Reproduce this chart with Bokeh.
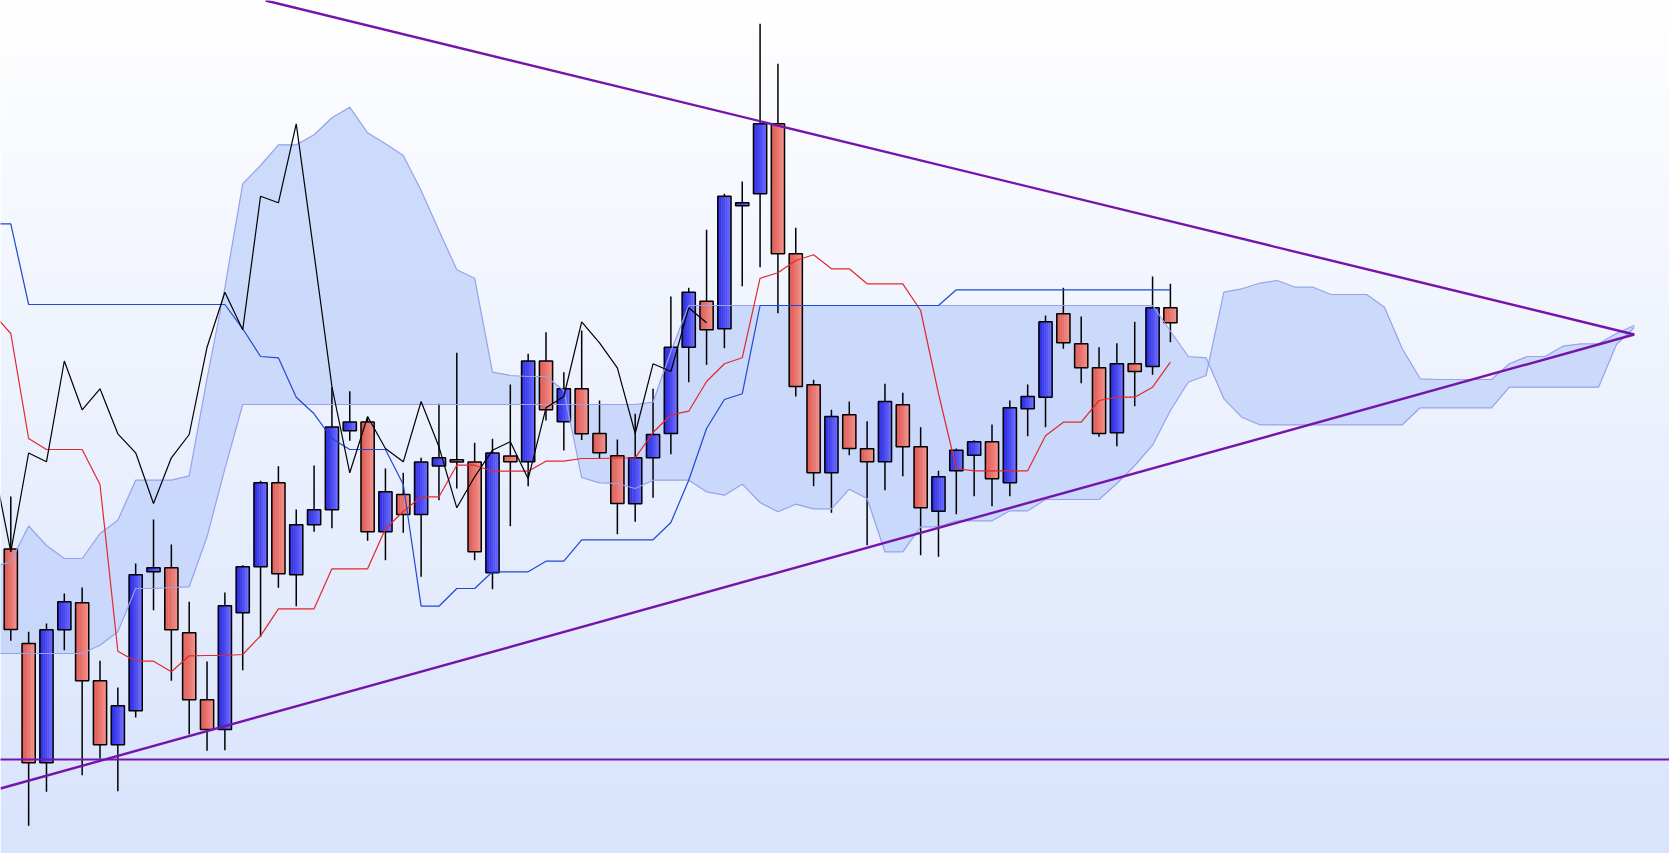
import numpy as np
from bokeh.plotting import figure
from bokeh.models import Range1d, ColumnDataSource
from bokeh.embed import file_html
from bokeh.resources import INLINE

# ---- candles, index 0..65 ----
opens = [304.5, 210, 90.7, 223.7, 250.7, 172.7, 108.7, 142.7, 281.7, 285.7,
         220.7, 153.7, 124, 240.7, 286.7, 370.7, 278.7, 328.7, 343.7, 422.7,
         431.5, 321.7, 359, 339, 387.5, 393.7, 391.5, 280.7, 397.5, 391.7,
         492.5, 431.7, 464.7, 420, 397.7, 349.7, 395.7, 420, 506.3, 552.3,
         524.7, 647.7, 659.7, 729.7, 599.7, 468.7, 380.7, 438.7, 404.7, 391.7,
         448.7, 406.7, 342.3, 382.7, 398.3, 411.7, 370.7, 444.7, 456.3, 539.7,
         509.7, 485.7, 420.7, 489.7, 487, 545.7]
highs = [357, 221.7, 230, 260, 266, 192.7, 166, 290, 334, 309,
         251.7, 192, 261, 288.3, 372.7, 387.3, 344, 388, 466.3, 462.3,
         436.3, 385, 380.7, 395.7, 449.7, 500.7, 410.7, 414.7, 469, 499.7,
         521.3, 481.3, 523, 453, 414, 439.7, 464.7, 557, 565.7, 623.7,
         659.7, 672, 829.7, 789.7, 625.7, 473.7, 443.7, 452, 432.3, 469.7,
         460.7, 426.3, 382.7, 405, 413.3, 429, 453, 469, 538, 565.7,
         537, 506.3, 510.3, 531.7, 577, 569.7]
lows = [212.7, 27.7, 61.7, 203.3, 78.3, 95, 62.3, 136, 243.3, 172.7,
        119.3, 102.7, 103.3, 183.3, 216.7, 265.7, 247.3, 321.7, 325.3, 412.7,
        312.7, 293.3, 320.7, 276.7, 353.3, 365, 293.3, 264.3, 327.3, 367.3,
        433, 403, 413.5, 395, 319.3, 331.7, 355.7, 399.3, 471.3, 488.7,
        505.3, 567.3, 586.3, 540.3, 457, 367.3, 340.7, 398.3, 308.3, 363.3,
        377.3, 298.3, 296.7, 339.3, 357.3, 347.3, 357.3, 417.3, 426.3, 504.7,
        470.3, 416.7, 407.3, 447.3, 478.7, 511.3]
closes = [224, 90.7, 223.7, 251.7, 172.7, 108.7, 147.7, 278.7, 285.7, 223.7,
          153.7, 124, 247.7, 286.7, 370.7, 279.7, 328.7, 343.7, 426.5, 431.5,
          321.7, 361.7, 339, 391.5, 395.7, 391.5, 301.7, 400.5, 391.7, 492.5,
          443.7, 464.7, 419.7, 400.7, 350, 395.7, 419, 506.3, 561.3, 523.7,
          657.3, 650.7, 729.7, 599.7, 467, 380.7, 437, 405, 391.7, 452,
          406.7, 345.7, 376.7, 403.3, 411.7, 374.7, 445.7, 457, 531.7, 510.7,
          485.7, 420, 489.7, 482, 545.7, 530.7]

# ---- Ichimoku lines, index -1..65 ----
tenkan = [540, 520, 415, 404, 404, 404, 369, 202.3, 192.3, 192.3, 181.7,
          197.7, 198, 198, 199, 217.7, 244.7, 244.7, 244.7, 284.7, 284.7,
          284.7, 324.7, 342, 356.7, 356.7, 388.3, 388.3, 382.3, 382.3, 382.3,
          392.3, 392.3, 395, 395, 395.5, 395.7, 421, 438.7, 442.3, 472,
          489.7, 495.7, 575.3, 580.7, 593, 598.7, 584.7, 584.7, 569.7, 569.7,
          569.7, 543, 460, 385, 382.7, 382.7, 382.7, 382.7, 417.7, 431.3,
          431.3, 453, 456.3, 456.3, 466.3, 491.3]
kijun = [629.7, 629.7,
         549, 549, 549, 549, 549, 549, 549, 549, 549, 549, 549, 549,
         524.7, 497, 495.7, 456.3, 439.7, 415, 404, 404, 404, 369,
         247.3, 247.3, 265, 265, 281.7, 281.7, 281.7, 292.3, 292.3,
         313.7, 313.7, 313.7, 313.7, 313.7, 331, 373.3, 425, 454, 459.7,
         548, 548, 548, 548, 548, 548, 548, 548, 548, 548, 548,
         563.7, 563.7, 563.7, 563.7, 563.7, 563.7, 563.7, 563.7, 563.7,
         563.7, 563.7, 563.7, 563.7]

# ---- cloud spans, index -1..91 ----
span_a = [286, 292, 327.5, 308, 295, 295, 320, 333.3, 373.3, 373.3, 373.3,
          377.7, 475, 566, 669.7, 688, 708.7, 708.7, 718.7, 735.7, 746.3,
          720.7, 709.7, 698, 663, 623, 583.7, 575.3, 481.3, 478, 477, 477,
          463, 376, 370.7, 370, 365, 373.3, 373.3, 373.3, 361.7, 358.3,
          369.3, 351, 341.7, 349.3, 344.7, 344.7, 364.3, 355, 301.7, 301.7,
          326.7, 326.7, 332.7, 332.7, 332.7, 342.7, 342.7, 354, 354, 354,
          354, 370, 388, 408.3, 443, 471.3, 478, 561.3, 564.7, 570.3, 573,
          566.3, 566.3, 559, 559, 559, 546.3, 504.7, 474.7, 474, 474, 474,
          474, 489.7, 497, 497, 507.3, 509.7, 509.7, 520, 528]
span_b = ([200, 200, 200, 200, 200, 200, 208.3, 221.7, 265, 265, 266, 266.7,
           316.7, 384.7]
          + [449] * 23 + [451.3, 502] + [548] * 27
          + [522.5, 497, 495.7, 454.7, 436.3]
          + [428.7] * 9 + [445.7] * 5 + [466.3] * 6 + [509, 526])

# ---- drawn objects ----
upper_trend_x = [14.28, 91.0]
upper_trend_y = [853, 519]
lower_trend_x = [-0.58, 91.0]
lower_trend_y = [65, 519]
support_level = 94

n = len(opens)
idx = list(range(n))
line_idx = list(range(-1, n))
cloud_idx = list(range(-1, -1 + len(span_a)))
chikou_x = [i - 26 for i in range(25, n)]
chikou_y = closes[25:]

up = [c >= o for o, c in zip(opens, closes)]
tops = [max(o, c) for o, c in zip(opens, closes)]
bots = [min(o, c) for o, c in zip(opens, closes)]
src = ColumnDataSource(dict(x=idx, top=tops, bottom=bots, high=highs, low=lows))

W, H = 1669, 853
x0 = (0 - 10.3) / 17.84
x1 = x0 + W / 17.84
p = figure(width=W, height=H, output_backend="svg", toolbar_location=None,
           x_range=Range1d(x0, x1), y_range=Range1d(0, 853),
           min_border=0, outline_line_color=None)
p.axis.visible = False
p.grid.visible = False
p.background_fill_color = "white"
p.border_fill_color = "white"

# background gradient
rows = np.arange(H)
py = 853 - (rows + 0.5)
t = (py / 853.0)[:, None]
topc = np.array([255, 255, 255], dtype=float)
botc = np.array([216, 227, 252], dtype=float)
rgb = topc * (1 - t) + botc * t
img = np.zeros((H, 2), dtype=np.uint32)
view = img.view(dtype=np.uint8).reshape((H, 2, 4))
view[:, :, 0] = rgb[:, 0:1].astype(np.uint8)
view[:, :, 1] = rgb[:, 1:2].astype(np.uint8)
view[:, :, 2] = rgb[:, 2:3].astype(np.uint8)
view[:, :, 3] = 255
p.image_rgba(image=[img], x=x0, y=0, dw=x1 - x0, dh=853)

# cloud fill
p.varea(x=cloud_idx, y1=span_a, y2=span_b, fill_color="#c2d3fa", fill_alpha=0.8)

# candles: wicks, gradient bodies, outlines
p.segment(x0="x", y0="high", x1="x", y1="low", source=src,
          line_color="black", line_width=1.5)

BW = 0.74
NS = 7
bull_l, bull_r = np.array([44, 44, 226]), np.array([104, 104, 255])
bear_l, bear_r = np.array([222, 92, 86]), np.array([244, 142, 134])
for k in range(NS):
    f = k / (NS - 1)
    cb = "#%02x%02x%02x" % tuple(int(v) for v in bull_l * (1 - f) + bull_r * f)
    cr = "#%02x%02x%02x" % tuple(int(v) for v in bear_l * (1 - f) + bear_r * f)
    off = -BW / 2 + (k + 0.5) * BW / NS
    p.vbar(x=[i + off for i in idx], top=tops, bottom=bots, width=BW / NS * 1.2,
           fill_color=[cb if u else cr for u in up], line_color=None)
p.vbar(x="x", top="top", bottom="bottom", width=BW, source=src,
       fill_color=None, line_color="black", line_width=1.5)

# cloud edges
p.line(cloud_idx, span_a, line_color="#97a1ec", line_width=1.2)
p.line(cloud_idx, span_b, line_color="#97a1ec", line_width=1.2)

# ichimoku lines
p.line(line_idx, tenkan, line_color="#e2282c", line_width=1.2)
p.line(line_idx, kijun, line_color="#1f48d4", line_width=1.2)
p.line(chikou_x, chikou_y, line_color="black", line_width=1.2)

# trend lines and support level
p.line(upper_trend_x, upper_trend_y, line_color="#7514ab", line_width=2.4)
p.line(lower_trend_x, lower_trend_y, line_color="#7514ab", line_width=2.4)
p.line([x0 - 1, x1 + 1], [support_level, support_level],
       line_color="#7514ab", line_width=2)

open("out.html", "w").write(file_html(p, INLINE))
